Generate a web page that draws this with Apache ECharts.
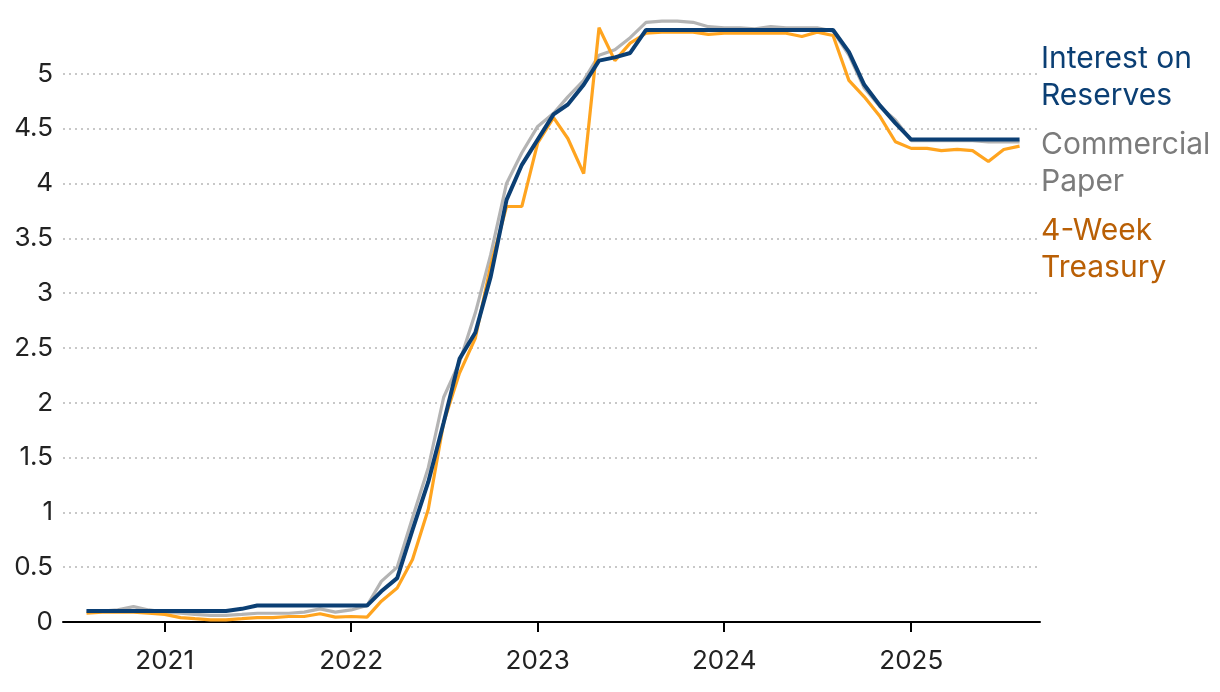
<!DOCTYPE html>
<html><head><meta charset="utf-8">
<script src="https://cdn.jsdelivr.net/npm/echarts@6/dist/echarts.min.js"></script>
<style>html,body{margin:0;padding:0;background:#fff}#c{width:1220px;height:692px}</style>
</head><body><div id="c"></div>
<script>
const months = [
  '2020-08-01','2020-09-01','2020-10-01','2020-11-01','2020-12-01',
  '2021-01-01','2021-02-01','2021-03-01','2021-04-01','2021-05-01','2021-06-01','2021-07-01','2021-08-01','2021-09-01','2021-10-01','2021-11-01','2021-12-01',
  '2022-01-01','2022-02-01','2022-03-01','2022-04-01','2022-05-01','2022-06-01','2022-07-01','2022-08-01','2022-09-01','2022-10-01','2022-11-01','2022-12-01',
  '2023-01-01','2023-02-01','2023-03-01','2023-04-01','2023-05-01','2023-06-01','2023-07-01','2023-08-01','2023-09-01','2023-10-01','2023-11-01','2023-12-01',
  '2024-01-01','2024-02-01','2024-03-01','2024-04-01','2024-05-01','2024-06-01','2024-07-01','2024-08-01','2024-09-01','2024-10-01','2024-11-01','2024-12-01',
  '2025-01-01','2025-02-01','2025-03-01','2025-04-01','2025-05-01','2025-06-01','2025-07-01','2025-08-01'
];
const interestOnReserves = [
  0.10,0.10,0.10,0.10,0.10,
  0.10,0.10,0.10,0.10,0.10,0.12,0.15,0.15,0.15,0.15,0.15,0.15,
  0.15,0.15,0.28,0.40,0.84,1.28,1.82,2.40,2.64,3.15,3.85,4.17,
  4.40,4.63,4.72,4.90,5.12,5.15,5.19,5.40,5.40,5.40,5.40,5.40,
  5.40,5.40,5.40,5.40,5.40,5.40,5.40,5.40,5.20,4.90,4.71,4.55,
  4.40,4.40,4.40,4.40,4.40,4.40,4.40,4.40
];
const commercialPaper = [
  0.10,0.10,0.11,0.14,0.11,
  0.09,0.08,0.07,0.06,0.06,0.07,0.08,0.08,0.08,0.09,0.12,0.09,
  0.11,0.15,0.37,0.50,0.95,1.41,2.05,2.37,2.82,3.35,4.00,4.28,
  4.52,4.64,4.79,4.94,5.17,5.22,5.33,5.47,5.48,5.48,5.47,5.43,
  5.42,5.42,5.41,5.43,5.42,5.42,5.42,5.39,5.17,4.87,4.70,4.58,
  4.39,4.39,4.39,4.39,4.39,4.38,4.38,4.38
];
const treasury4Week = [
  0.08,0.09,0.09,0.09,0.08,
  0.07,0.04,0.03,0.02,0.02,0.03,0.04,0.04,0.05,0.05,0.075,0.045,
  0.05,0.045,0.19,0.31,0.57,1.03,1.82,2.27,2.59,3.25,3.79,3.79,
  4.37,4.60,4.41,4.09,5.42,5.12,5.28,5.37,5.38,5.38,5.38,5.36,
  5.37,5.37,5.37,5.37,5.37,5.34,5.38,5.35,4.94,4.79,4.61,4.38,
  4.32,4.32,4.30,4.31,4.30,4.20,4.31,4.34
];
const yearTicks = ['2021-01-01','2022-01-01','2023-01-01','2024-01-01','2025-01-01'];
const yearLabels = ['2021','2022','2023','2024','2025'];
const seriesNames = ['Commercial Paper','4-Week Treasury','Interest on Reserves'];
const labelTexts = ['Interest on\nReserves','Commercial\nPaper','4-Week\nTreasury'];

const ts = s => new Date(s + 'T00:00:00Z').getTime();
const pairs = arr => months.map((m, i) => [ts(m), arr[i]]);
const yearTs = yearTicks.map(ts);

const chart = echarts.init(document.getElementById('c'), null, {renderer: 'canvas'});
chart.setOption({
  animation: false,
  backgroundColor: '#ffffff',
  textStyle: {fontFamily: 'Inter'},
  grid: {left: 63, right: 180, top: 19, bottom: 70, containLabel: false},
  xAxis: {
    type: 'value',
    min: ts('2020-06-16'),
    max: ts('2025-09-10'),
    axisLine: {show: true, lineStyle: {color: '#000', width: 2}},
    axisTick: {show: true, length: 10, lineStyle: {color: '#000', width: 2}, customValues: yearTs},
    axisLabel: {
      customValues: yearTs,
      formatter: v => { const i = yearTs.indexOf(v); return i >= 0 ? yearLabels[i] : ''; },
      color: '#222', fontSize: 26, fontFamily: 'Inter', margin: 26
    },
    splitLine: {show: false}
  },
  yAxis: {
    type: 'value',
    min: 0, max: 5.5, interval: 0.5,
    axisLine: {show: false},
    axisTick: {show: false},
    axisLabel: {color: '#222', fontSize: 26, fontFamily: 'Inter', margin: 10, showMaxLabel: false,
      formatter: v => (v > 5.01 ? '' : String(v))},
    splitLine: {show: true, showMaxLine: false, showMinLine: false,
      lineStyle: {color: '#c8c8c8', width: 2, type: [2, 4]}}
  },
  series: [
    {name: seriesNames[0], type: 'line', data: pairs(commercialPaper), showSymbol: false, symbol: 'none',
      lineStyle: {color: '#b4b4b4', width: 3.2}, itemStyle: {color: '#b4b4b4'}, z: 2},
    {name: seriesNames[1], type: 'line', data: pairs(treasury4Week), showSymbol: false, symbol: 'none',
      lineStyle: {color: '#ffa41f', width: 3.2}, itemStyle: {color: '#ffa41f'}, z: 3},
    {name: seriesNames[2], type: 'line', data: pairs(interestOnReserves), showSymbol: false, symbol: 'none',
      lineStyle: {color: '#0b3f74', width: 4}, itemStyle: {color: '#0b3f74'}, z: 4}
  ],
  graphic: [
    {type: 'text', left: 1041, top: 40, style: {text: labelTexts[0], fill: '#0b3f74', font: '30px Inter', lineHeight: 37}},
    {type: 'text', left: 1041, top: 126, style: {text: labelTexts[1], fill: '#7b7b7b', font: '30px Inter', lineHeight: 37}},
    {type: 'text', left: 1041, top: 212, style: {text: labelTexts[2], fill: '#b95f05', font: '30px Inter', lineHeight: 37}}
  ]
});
</script></body></html>
